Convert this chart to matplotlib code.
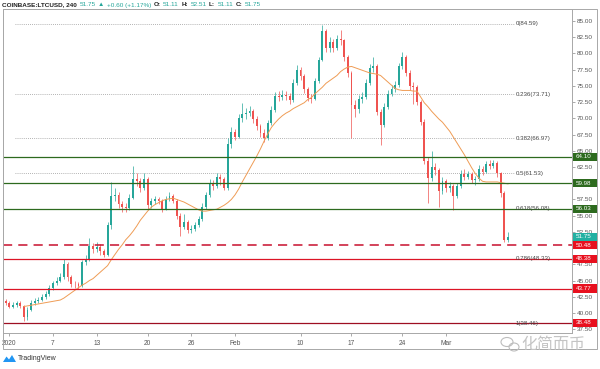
import numpy as np
import pandas as pd
import matplotlib
matplotlib.use("Agg")
import matplotlib.pyplot as plt
import matplotlib.dates as mdates
import matplotlib.transforms as mtransforms
from matplotlib.patches import Rectangle, Polygon, Ellipse

plt.rcParams['font.family'] = ['Liberation Sans', 'DejaVu Sans', 'Noto Sans CJK SC']

# ---- data (12h candles) ----
first_open = 41.8
close = [41.6, 41.0, 41.3, 41.5, 41.1, 39.4, 40.5, 41.6, 41.8, 42.0,
         42.4, 42.9, 43.8, 44.6, 45.0, 45.6, 47.5, 45.5, 44.5, 44.4,
         44.2, 47.8, 48.3, 50.3, 49.9, 50.2, 49.6, 49.0, 53.5, 58.0,
         58.2, 56.8, 56.3, 56.2, 57.8, 60.6, 60.4, 59.3, 60.6, 56.6,
         57.2, 57.5, 57.3, 56.0, 57.5, 58.0, 57.3, 55.0, 53.3, 54.0,
         52.8, 53.0, 53.6, 54.5, 56.4, 58.2, 60.0, 59.6, 60.9, 60.6,
         59.2, 66.0, 67.9, 67.2, 70.0, 70.6, 70.8, 71.2, 69.9, 68.8,
         67.8, 67.0, 69.3, 71.3, 73.4, 73.3, 73.6, 73.5, 72.8, 75.5,
         77.5, 76.5, 74.5, 73.2, 73.0, 75.7, 79.0, 83.5, 80.9, 81.8,
         80.8, 82.3, 82.0, 79.5, 77.0, 72.0, 71.5, 73.0, 73.3, 75.5,
         77.8, 78.0, 71.0, 69.0, 71.8, 73.8, 74.5, 75.2, 78.0, 79.5,
         77.0, 75.0, 74.8, 72.5, 69.5, 63.5, 60.8, 62.5, 62.0, 58.8,
         60.3, 59.2, 59.5, 58.0, 59.5, 61.4, 61.0, 61.4, 60.5, 60.6,
         62.2, 61.8, 63.0, 62.7, 63.1, 61.5, 58.5, 51.3, 51.75]
high = [42.2, 41.9, 41.7, 41.9, 41.8, 41.3, 40.9, 42.0, 42.3, 42.5,
        42.9, 43.4, 44.3, 45.0, 45.5, 46.1, 48.3, 47.8, 45.9, 45.0,
        44.8, 48.2, 49.0, 51.5, 50.8, 50.9, 50.6, 49.9, 54.0, 60.2,
        59.3, 58.6, 57.3, 56.9, 58.3, 62.6, 61.5, 60.8, 61.6, 61.0,
        57.8, 58.1, 57.9, 57.6, 58.0, 58.6, 58.4, 57.6, 55.4, 55.2,
        54.4, 53.6, 54.1, 55.0, 56.9, 58.7, 60.7, 60.5, 61.5, 61.4,
        60.9, 67.0, 68.6, 68.3, 70.6, 72.4, 71.6, 71.9, 71.5, 70.3,
        69.2, 68.3, 69.8, 71.9, 74.0, 74.2, 74.3, 74.2, 73.9, 76.0,
        78.2, 77.9, 76.8, 74.8, 73.7, 76.2, 79.5, 84.4, 83.8, 82.5,
        82.2, 82.9, 83.6, 82.3, 79.8, 77.3, 72.8, 73.6, 74.0, 76.0,
        78.4, 79.5, 78.3, 71.4, 72.3, 74.3, 75.1, 75.8, 78.6, 80.3,
        79.8, 77.4, 75.6, 75.2, 72.9, 69.9, 64.0, 65.0, 63.1, 62.3,
        60.9, 60.7, 60.2, 59.9, 60.0, 62.0, 62.2, 61.9, 61.8, 61.1,
        62.8, 62.7, 63.5, 63.6, 63.6, 63.4, 61.8, 58.8, 52.5]
low = [41.2, 40.7, 40.8, 41.0, 40.8, 38.7, 39.0, 40.3, 41.3, 41.5,
       41.8, 42.1, 42.6, 43.5, 44.3, 44.8, 45.3, 45.0, 44.0, 43.9,
       43.7, 44.0, 47.4, 48.0, 49.2, 49.4, 49.0, 48.6, 48.8, 53.0,
       57.2, 56.2, 55.6, 55.5, 55.9, 57.5, 59.6, 58.6, 58.9, 56.0,
       56.2, 56.8, 56.8, 55.5, 55.8, 57.2, 56.9, 54.5, 51.8, 52.9,
       52.3, 52.4, 52.7, 53.3, 54.2, 56.0, 57.9, 59.0, 59.3, 59.8,
       58.9, 59.0, 65.5, 66.6, 66.9, 69.5, 69.9, 70.3, 69.3, 68.2,
       67.2, 66.4, 66.7, 69.0, 71.0, 72.6, 72.8, 72.9, 72.2, 72.5,
       75.2, 75.9, 73.9, 72.6, 72.4, 72.8, 75.4, 78.8, 80.2, 80.3,
       80.2, 80.5, 81.3, 78.9, 76.3, 67.0, 70.2, 70.9, 72.4, 73.0,
       75.2, 77.2, 70.5, 65.9, 68.6, 71.5, 73.4, 74.0, 74.9, 77.6,
       76.5, 74.4, 72.2, 72.0, 69.0, 63.0, 57.0, 60.3, 61.2, 56.4,
       58.4, 58.6, 58.7, 55.9, 57.7, 59.2, 60.5, 60.6, 60.0, 59.8,
       60.3, 61.3, 61.5, 62.2, 62.3, 61.0, 57.9, 51.0, 50.9]
# moving average, starts at the 6th candle
ma_start = 5
ma = [41.0, 41.1, 41.2, 41.3, 41.4, 41.5, 41.6, 41.7, 41.8, 41.9,
      42.0, 42.3, 42.7, 43.1, 43.5, 43.9, 44.3, 44.6, 45.0, 45.3,
      45.8, 46.3, 46.8, 47.3, 48.2, 49.0, 49.8, 50.5, 51.3, 51.9,
      52.6, 53.4, 54.3, 55.0, 55.7, 56.3, 56.7, 57.0, 57.3, 57.5,
      57.6, 57.7, 57.5, 57.3, 57.1, 56.8, 56.5, 56.2, 55.9, 55.7,
      55.7, 55.8, 55.9, 56.0, 56.3, 56.6, 57.0, 57.5, 58.2, 59.1,
      60.2, 61.2, 62.2, 63.2, 64.2, 65.3, 66.5, 67.6, 68.6, 69.3,
      69.9, 70.4, 70.8, 71.1, 71.5, 71.8, 72.1, 72.4, 72.9, 73.2,
      73.8, 74.3, 74.8, 75.4, 75.8, 76.2, 76.6, 77.2, 77.6, 77.9,
      78.0, 77.8, 77.6, 77.4, 77.2, 77.0, 76.9, 76.8, 76.6, 76.1,
      75.6, 75.1, 74.6, 74.4, 74.3, 74.3, 74.3, 74.2, 74.2, 73.3,
      72.4, 71.8, 71.1, 70.5, 69.9, 69.4, 68.7, 68.0, 67.1, 66.2,
      65.3, 64.4, 63.4, 62.4, 61.5, 60.8, 60.3, 60.2, 60.2, 60.2,
      60.2, 60.1, 60.0, 59.9]

fib_ratios = [0, 0.236, 0.382, 0.5, 0.618, 0.786, 1]
fib_prices = [84.59, 73.71, 66.97, 61.53, 56.08, 48.33, 38.46]
green_levels = [64.10, 59.98, 56.03]
red_levels = [48.38, 43.77, 38.48]
dashed_level = 50.48
last_price = 51.75

# price scale ticks; 60.00 and 50.00 sit fully under the level labels
y_ticks = np.arange(37.5, 85.1, 2.5)
hidden_ticks = [60.0, 50.0]

tick_dates = ['2020-01-01', '2020-01-07', '2020-01-13', '2020-01-20', '2020-01-26',
              '2020-02-01', '2020-02-10', '2020-02-17', '2020-02-24', '2020-03-01']
tick_labels = ['2020', '7', '13', '20', '26', 'Feb', '10', '17', '24', 'Mar']

header = [("COINBASE:LTCUSD, 240", '#222222', 'bold'),
          ("51.75", '#26a69a', 'normal'), ("\u25b2", '#26a69a', 'normal'),
          ("+0.60 (+1.17%)", '#26a69a', 'normal'),
          ("O:", '#222222', 'bold'), ("51.11", '#26a69a', 'normal'),
          ("H:", '#222222', 'bold'), ("52.51", '#26a69a', 'normal'),
          ("L:", '#222222', 'bold'), ("51.11", '#26a69a', 'normal'),
          ("C:", '#222222', 'bold'), ("51.75", '#26a69a', 'normal')]

UP, DOWN = '#26a69a', '#ef5350'
GREEN, RED = '#2d6a1e', '#dc1426'

# ---- figure ----
W, H = 600, 369
fig = plt.figure(figsize=(6, 3.69), dpi=100)
px = mtransforms.Affine2D().scale(1 / W, -1 / H).translate(0, 1) + fig.transFigure
ax = fig.add_axes([3 / W, 1 - 333 / H, 569 / W, 324 / H])

dates = pd.date_range('2019-12-31 12:00', periods=len(close), freq='12h')
x = mdates.date2num(dates)
o = np.array([first_open] + close[:-1])
c = np.array(close)
cols = np.where(c >= o, UP, DOWN)

ax.vlines(x, low, high, colors=cols, lw=0.5, zorder=2)
ax.bar(x, c - o, bottom=o, width=0.26, color=cols, linewidth=0, zorder=2)
ax.plot(x[ma_start:], ma, color='#ef9c55', lw=0.7, zorder=3)

t0 = mdates.date2num(pd.Timestamp('2020-01-01'))
ax.set_xlim(t0 - 0.865, t0 + 77.29)
ax.set_ylim(36.92, 86.85)

blend = mtransforms.blended_transform_factory(ax.transAxes, ax.transData)
for r, p in zip(fib_ratios, fib_prices):
    ax.axhline(p, xmin=12 / 569, xmax=512 / 569, color='#9a9a9a', lw=0.6,
               ls=(0, (1, 1.5)), zorder=1)
    ax.text(513 / 569, p, f'{r:g}({p:.2f})', transform=blend, fontsize=4.4,
            va='center', ha='left', color='#444444', zorder=6)

for v in green_levels:
    ax.axhline(v, color=GREEN, lw=0.9, zorder=4)
for v in red_levels:
    ax.axhline(v, color=RED if v != red_levels[-1] else '#9e0f22', lw=0.9, zorder=4)
ax.axhline(dashed_level, color='#c8102e', lw=1.1, ls=(0, (6, 4)), zorder=4)

# axes styling
ax.yaxis.tick_right()
ax.set_yticks(y_ticks)
ax.set_yticklabels(['' if any(abs(t - h) < 1e-6 for h in hidden_ticks) else f'{t:.2f}'
                    for t in y_ticks])
ax.set_xticks(mdates.date2num(pd.to_datetime(tick_dates)))
ax.set_xticklabels(tick_labels)
ax.tick_params(axis='y', direction='out', length=2, width=0.5, color='#888888',
               labelsize=4.6, labelcolor='#555555', pad=1.5)
ax.tick_params(axis='x', direction='out', length=2, width=0.5, color='#888888',
               labelsize=4.8, labelcolor='#555555', pad=3)
for s in ax.spines.values():
    s.set_color('#a8a8a8')
    s.set_linewidth(0.7)

# outer frame
fig.add_artist(Rectangle((3, 349), 594, -340, transform=px, fill=False,
                         ec='#a8a8a8', lw=0.7))

# price labels on the scale
blend_fd = mtransforms.blended_transform_factory(fig.transFigure, ax.transData)
boxes = [(v, GREEN) for v in green_levels] + [(last_price, '#22b0a2')] + \
        [(dashed_level, '#e8101e')] + [(v, '#e8101e') for v in red_levels]
for v, col in boxes:
    fig.add_artist(Rectangle((573 / W, v - 0.63), 24 / W, 1.26, transform=blend_fd,
                             fc=col, ec='none', zorder=5))
    fig.text(576 / W, v, f'{v:.2f}', transform=blend_fd, color='white', fontsize=4.5,
             va='center', ha='left', zorder=6)

# header line
fig.canvas.draw()
rend = fig.canvas.get_renderer()
hx = 2 / W
for s, col, w in header:
    t = fig.text(hx, 1 - 5 / H, s, color=col, fontsize=4.6, fontweight=w,
                 va='center', ha='left')
    bb = t.get_window_extent(rend)
    hx = (bb.x1 + 2.5) / W

# TradingView logo
fig.add_artist(Polygon([(3, 362), (6.5, 356.5), (9, 359.5), (12, 355), (16, 362)],
                       closed=True, transform=px, fc='#2196f3', ec='none'))
fig.text(18 / W, 1 - 359 / H, 'TradingView', fontsize=5, color='#333333',
         va='center', ha='left')

# watermark
fig.add_artist(Ellipse((507, 342), 12, 9, transform=px, fill=False, ec='#bdbdbd', lw=0.8))
fig.add_artist(Ellipse((514, 347), 10, 8, transform=px, fill=False, ec='#bdbdbd', lw=0.8))
fig.text(521 / W, 1 - 344 / H, '化简而币', fontsize=11.5, color='#c4c4c4',
         family=['Noto Sans CJK SC', 'DejaVu Sans'], va='center', ha='left')

fig.savefig('out.png', dpi=100, facecolor='white')
